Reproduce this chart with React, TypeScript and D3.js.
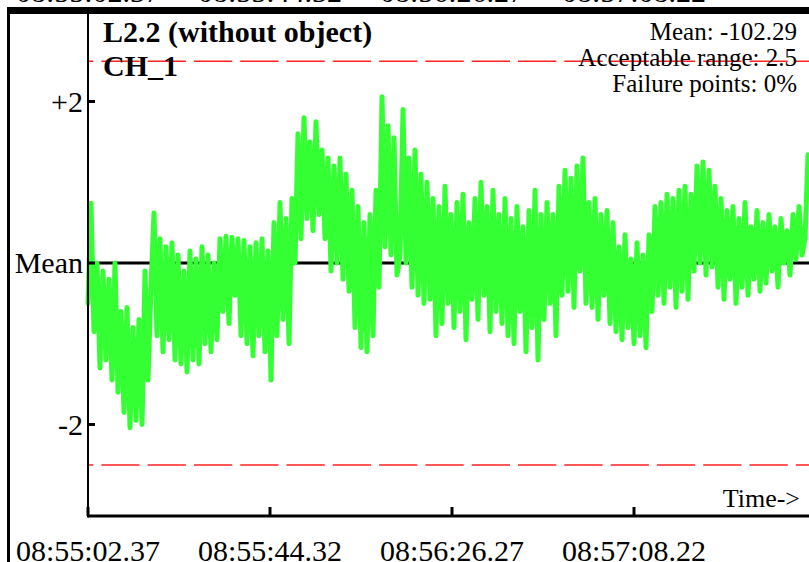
import * as d3 from "d3";
import React from "react";

// deviation from the mean, one sample every SAMPLE_STEP seconds
const deviations = [
  -0.5, 0.74, -0.85, 0.0, -1.3, -0.1, -1.2, -0.2, -1.45, 0.0,
  -1.6, -0.6, -1.85, -0.55, -2.04, -0.8, -1.95, -0.7, -2.0, -0.1,
  -1.45, -0.3, 0.62, -0.9, 0.3, -1.1, 0.2, -0.95, 0.25, -1.2,
  0.1, -1.25, -0.1, -1.35, 0.15, -1.2, 0.05, -1.25, 0.2, -1.0,
  0.1, -1.1, 0.0, -0.95, 0.3, -0.6, 0.33, -0.75, 0.32, -0.4,
  0.3, -0.9, 0.28, -1.0, 0.2, -1.15, 0.25, -0.9, 0.3, -1.1,
  0.15, -1.45, 0.5, -0.9, 0.75, -0.7, 0.55, -1.0, 0.8, 0.0,
  1.6, 0.3, 1.8, 0.55, 1.5, 0.4, 1.75, 0.6, 1.4, 0.3,
  1.3, -0.1, 1.2, 0.0, 1.3, -0.2, 1.1, -0.35, 0.9, -0.8,
  0.7, -1.05, 0.5, -1.1, 0.6, -0.9, 0.9, -0.3, 2.06, 0.2,
  1.7, 0.1, 1.55, -0.15, 0.1, 1.9, 0.0, 1.3, -0.3, 1.4,
  -0.4, 1.1, -0.5, 1.0, -0.45, 0.8, -0.9, 0.7, -0.75, 0.95,
  -0.5, 0.6, -0.8, 0.75, -0.6, 0.85, -0.95, 0.5, -0.45, 0.8,
  -0.7, 1.0, -0.4, 0.7, -0.85, 0.9, -0.6, 0.6, -0.75, 0.8,
  -0.9, 0.55, -1.0, 0.7, -0.6, 0.45, -1.1, 0.65, -0.8, 0.9,
  -1.2, 0.6, -0.7, 0.75, -0.5, 0.6, -0.9, 0.95, -0.4, 1.15,
  -0.35, 1.05, -0.55, 1.2, -0.1, 1.3, -0.5, 0.75, -0.55, 0.8,
  -0.7, 0.6, -0.4, 0.65, -0.75, 0.5, -0.85, 0.2, -0.95, 0.35,
  -0.8, 0.05, -1.0, 0.25, -0.9, 0.1, -1.05, 0.35, -0.6, 0.7,
  -0.4, 0.75, -0.5, 0.85, -0.3, 0.8, -0.55, 0.9, -0.35, 0.95,
  -0.45, 0.85, -0.1, 1.2, 0.0, 1.25, -0.15, 1.15, -0.05, 0.95,
  -0.3, 0.8, -0.45, 0.65, -0.2, 0.7, -0.5, 0.55, -0.3, 0.75,
  -0.4, 0.45, -0.2, 0.65, -0.35, 0.5, -0.25, 0.6, -0.1, 0.45,
  -0.3, 0.55, 0.0, 0.4, -0.15, 0.6, 0.05, 0.7, 0.1, 0.3,
  1.34,
];

const SAMPLE_STEP = 0.6915; // seconds
const tickLabels = ["08:55:02.37", "08:55:44.32", "08:56:26.27", "08:57:08.22"];
const tickSeconds = [0, 41.95, 83.9, 125.85];
const yTicks = [
  { v: 2, label: "+2" },
  { v: 0, label: "Mean" },
  { v: -2, label: "-2" },
];
const acceptableRange = 2.5;
const infoLines = ["Mean: -102.29", "Acceptable range: 2.5", "Failure points: 0%"];

const W = 809;
const H = 562;
const font = "'Liberation Serif', 'Times New Roman', serif";

export default function App() {
  const x = d3.scaleLinear().domain([0, 167.8]).range([88, 816]);
  const y = d3.scaleLinear().domain([-2, 2]).range([424.5, 101.5]);

  const line = d3
    .line<number>()
    .x((_, i) => x(i * SAMPLE_STEP))
    .y((d) => y(d));

  const x0 = x(0);
  const xAxisY = 516;

  return (
    <svg
      width={W}
      height={H}
      style={{ position: "fixed", left: 0, top: 0, background: "#fff" }}
      fontFamily={font}
    >
      <rect x={0} y={0} width={W} height={H} fill="#fff" />
      {/* cut-off labels of the chart above */}
      {tickSeconds.map((t, i) => (
        <text key={"top" + i} x={x(t)} y={1.5} fontSize={30} textAnchor="middle" fill="#000">
          {tickLabels[i]}
        </text>
      ))}
      {/* frame */}
      <rect x={7} y={7} width={W} height={7} fill="#000" />
      <rect x={7} y={7} width={3} height={H} fill="#000" />

      {/* acceptable range */}
      {[acceptableRange, -acceptableRange].map((v) => (
        <line
          key={v}
          x1={x0}
          x2={W}
          y1={y(v)}
          y2={y(v)}
          stroke="#ff2222"
          strokeWidth={1.5}
          strokeDasharray="38.3,8"
          strokeDashoffset={33}
        />
      ))}

      {/* mean */}
      <line x1={x0} x2={W} y1={y(0)} y2={y(0)} stroke="#000" strokeWidth={3} />

      <path
        d={line(deviations) || ""}
        fill="none"
        stroke="#33ff33"
        strokeWidth={5}
        strokeLinejoin="round"
        strokeLinecap="round"
      />

      {/* axes */}
      <line x1={x0} x2={x0} y1={14} y2={xAxisY + 1.5} stroke="#000" strokeWidth={2} />
      <line x1={x0} x2={W} y1={xAxisY} y2={xAxisY} stroke="#000" strokeWidth={3} />
      {tickSeconds.map((t, i) => (
        <g key={"xt" + i}>
          <line x1={x(t)} x2={x(t)} y1={xAxisY - 9} y2={xAxisY} stroke="#000" strokeWidth={3} />
          <text x={x(t)} y={561} fontSize={30} textAnchor="middle" fill="#000">
            {tickLabels[i]}
          </text>
        </g>
      ))}
      {yTicks.map((t) => (
        <g key={t.label}>
          <line x1={x0} x2={x0 + 7} y1={y(t.v)} y2={y(t.v)} stroke="#000" strokeWidth={3} />
          <text x={x0 - 5} y={y(t.v) + 10} fontSize={30} textAnchor="end" fill="#000">
            {t.label}
          </text>
        </g>
      ))}

      <text x={800} y={507} fontSize={26} textAnchor="end" fill="#000">
        Time-&gt;
      </text>

      <text x={103} y={42} fontSize={30} fontWeight="bold" fill="#000">
        L2.2 (without object)
      </text>
      <text x={103} y={76} fontSize={30} fontWeight="bold" fill="#000">
        CH_1
      </text>
      {infoLines.map((s, i) => (
        <text key={s} x={797} y={40 + i * 26} fontSize={25} textAnchor="end" fill="#000">
          {s}
        </text>
      ))}
    </svg>
  );
}
